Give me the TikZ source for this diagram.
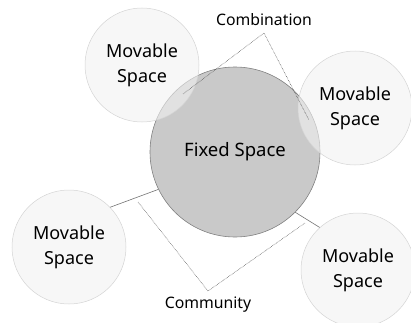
\documentclass[tikz,border=0pt]{standalone}
\usepackage{fontspec}
\setmainfont{Noto Sans}
\begin{document}
\begin{tikzpicture}[x=1pt,y=1pt,
  fixedspace/.style={circle, draw=black!50, line width=0.6pt, fill=black!21, minimum size=170pt, inner sep=0pt, font=\fontsize{18.5}{22}\selectfont},
  movespace/.style={circle, draw=black!17, line width=0.5pt, fill=black!5, fill opacity=0.6, text opacity=1, minimum size=114pt, inner sep=0pt, align=center, font=\fontsize{18}{25}\selectfont},
  link/.style={draw=black!55, line width=0.6pt},
  hint/.style={draw=black!70, line width=0.5pt, dotted, dash pattern=on 0.6pt off 0.9pt},
  tag/.style={font=\fontsize{15.8}{18}\selectfont}]
\useasboundingbox (0,0) rectangle (411,322);
% central space
\node[fixedspace] (fixed) at (235,170) {Fixed Space};
% movable spaces around it
\node[movespace] (tl) at (142,257) {Movable\\Space};
\node[movespace] (rt) at (355,214) {Movable\\Space};
\node[movespace] (bl) at (69,75) {Movable\\Space};
\node[movespace] (br) at (358,52) {Movable\\Space};
% attachments
\draw[link] (fixed.206) -- (bl.44);
\draw[link] (fixed.-45) -- (br.132);
% labels and their brackets
\node[tag] (comb) at (264,302) {Combination};
\node[tag] (comm) at (208,17) {Community};
\coordinate (combtip) at (264,289);
\coordinate (combl) at (183,228);
\coordinate (combr) at (309,202);
\coordinate (commtip) at (208,31);
\coordinate (comml) at (138,120);
\coordinate (commr) at (305,99);
\draw[hint] (combl) -- (combtip) -- (combr);
\draw[hint] (comml) -- (commtip) -- (commr);
\end{tikzpicture}
\end{document}
